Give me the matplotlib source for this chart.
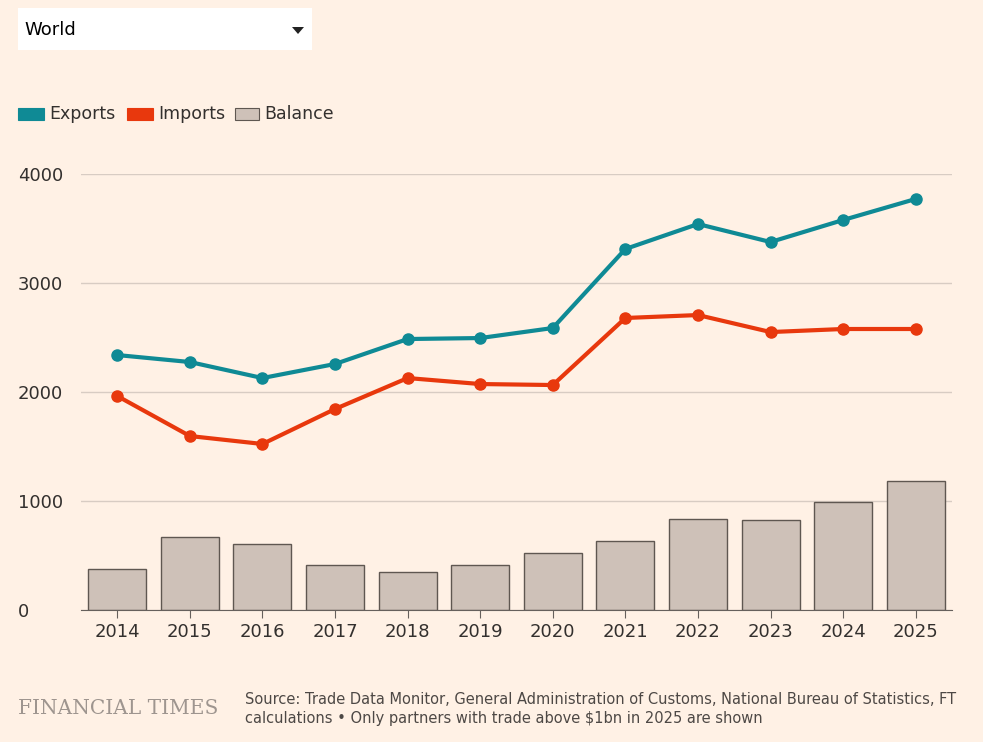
import matplotlib
matplotlib.use("Agg")
import matplotlib.pyplot as plt
from matplotlib.patches import Rectangle, Polygon

years = [2014,2015,2016,2017,2018,2019,2020,2021,2022,2023,2024,2025]
exports = [2339,2275,2128,2257,2486,2495,2587,3312,3541,3376,3578,3771]
imports = [1963,1596,1523,1844,2128,2073,2064,2679,2706,2550,2578,2578]
balance = [376,670,606,413,349,413,523,633,835,826,991,1183]
yticks = [0,1000,2000,3000,4000]

BG = "#FFF1E5"
TEAL = "#0F8A95"
RED = "#E8380D"
BAR = "#CEC1B8"
fig = plt.figure(figsize=(9.83,7.42), dpi=100, facecolor=BG)
ax = fig.add_axes([81/983, 1-610/742, (952-81)/983, (610-174)/742], facecolor=BG)
ax.bar(years, balance, width=0.8, color=BAR, edgecolor="#5f5751", linewidth=1, zorder=2)
ax.plot(years, exports, color=TEAL, lw=3, marker="o", ms=8, zorder=3)
ax.plot(years, imports, color=RED, lw=3, marker="o", ms=8, zorder=3)
ax.set_xlim(2013.5, 2025.5)
ax.set_ylim(0, 4000)
ax.set_yticks(yticks)
ax.set_xticks(years)
ax.grid(axis="y", color="#D8CCC3", lw=1, zorder=0)
for s in ["top","right","left"]:
    ax.spines[s].set_visible(False)
ax.spines["bottom"].set_color("#66605c")
ax.tick_params(axis="y", length=0, labelsize=13, colors="#33302e", pad=0)
for lab in ax.get_yticklabels():
    lab.set_horizontalalignment("left")
    lab.set_x(-63/871)
ax.tick_params(axis="x", length=6, color="#66605c", labelsize=13, colors="#33302e")

fig.patches.append(Rectangle((18/983, 1-50/742), 294/983, 42/742, transform=fig.transFigure, facecolor="white", edgecolor="none"))
fig.text(24/983, 1-30/742, "World", fontsize=13, va="center", color="#000")
fig.patches.append(Polygon([(292/983,1-27/742),(304/983,1-27/742),(298/983,1-34/742)], closed=True, transform=fig.transFigure, facecolor="#222", edgecolor="none"))

for lbl, c, ec, x, w in [("Exports",TEAL,TEAL,18,26),("Imports",RED,RED,127,26),("Balance",BAR,"#5f5751",235,24)]:
    fig.patches.append(Rectangle((x/983, 1-120/742), w/983, 12/742, transform=fig.transFigure, facecolor=c, edgecolor=ec, lw=0.8))
    fig.text((x+w+5)/983, 1-114/742, lbl, fontsize=12.5, va="center", color="#33302e")

fig.text(18/983, 1-708/742, "FINANCIAL TIMES", fontsize=14.5, family="DejaVu Serif", color="#9e958f", va="center")
fig.text(245/983, 1-709/742, "Source: Trade Data Monitor, General Administration of Customs, National Bureau of Statistics, FT\ncalculations \u2022 Only partners with trade above $1bn in 2025 are shown",
         fontsize=10.5, color="#4d4845", va="center", linespacing=1.3)
fig.savefig("out.png", dpi=100, facecolor=BG)
